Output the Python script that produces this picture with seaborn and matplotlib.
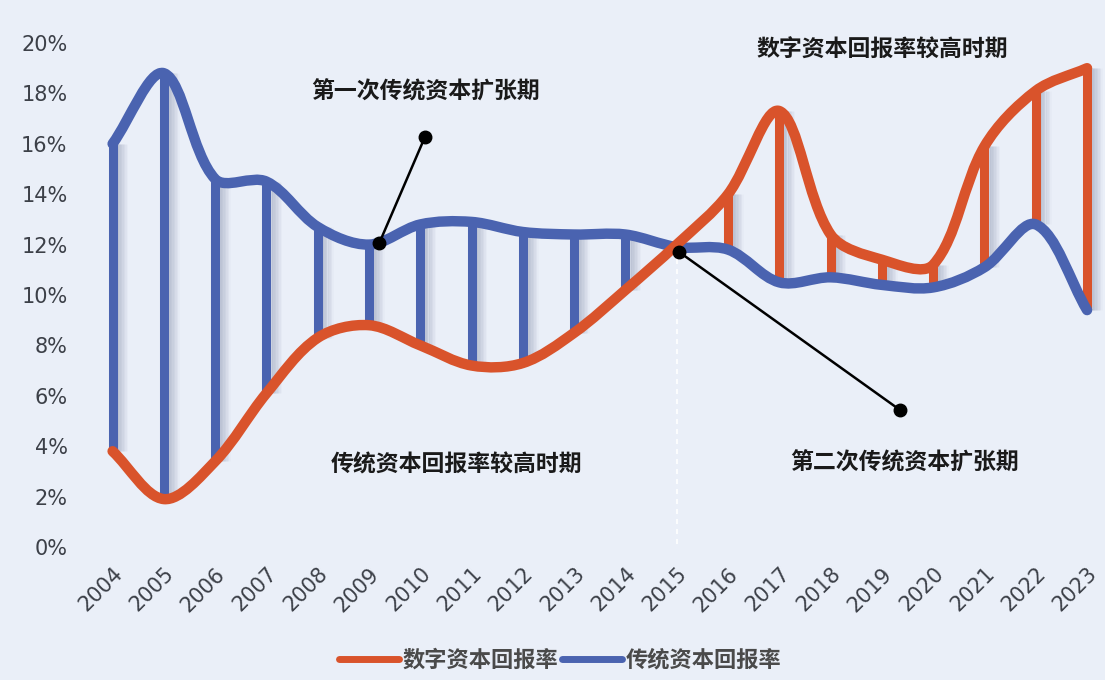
import numpy as np
import matplotlib
matplotlib.use("Agg")
import matplotlib.pyplot as plt
import seaborn as sns
from matplotlib.path import Path
from matplotlib.patches import PathPatch
from matplotlib.lines import Line2D

years = list(range(2004, 2024))
# 数字资本回报率 (%)
digital = [3.8, 1.9, 3.4, 6.1, 8.3, 8.8, 8.0, 7.2, 7.3, 8.5,
           10.2, 12.0, 14.0, 17.3, 12.4, 11.4, 11.2, 15.9, 18.1, 19.0]
# 传统资本回报率 (%)
traditional = [16.0, 18.8, 14.6, 14.5, 12.7, 12.0, 12.8, 12.9, 12.5, 12.4,
               12.4, 11.9, 11.8, 10.5, 10.7, 10.4, 10.3, 11.1, 12.8, 9.4]
y_ticks = list(range(0, 21, 2))

ORANGE = "#D9532B"
BLUE = "#4A63B0"
BG = "#EAEFF8"
TXT = "#3C4048"

sns.set_theme(style="white")
plt.rcParams["font.family"] = ["Noto Sans CJK SC", "DejaVu Sans"]


def smooth_path(xs, ys, aspect=2.03, t=1 / 3):
    # Excel-like smoothed line: cubic Bezier segments, tangents scaled by chord length
    pts = np.column_stack([xs, ys]).astype(float)
    n = len(pts)
    sc = pts * [aspect, 1]
    d = np.hypot(*np.diff(sc, axis=0).T)
    c_out, c_in = [], []
    for i in range(n):
        a = pts[max(i - 1, 0)]
        b = pts[min(i + 1, n - 1)]
        tan = b - a
        dp = d[i - 1] if i > 0 else 0.0
        dn = d[i] if i < n - 1 else 0.0
        tot = dp + dn
        c_out.append(pts[i] + tan * t * dn / tot)
        c_in.append(pts[i] - tan * t * dp / tot)
    verts = [pts[0]]
    codes = [Path.MOVETO]
    for i in range(n - 1):
        verts += [c_out[i], c_in[i + 1], pts[i + 1]]
        codes += [Path.CURVE4] * 3
    return Path(verts, codes)


fig = plt.figure(figsize=(11.05, 6.8), dpi=100, facecolor=BG)
ax = fig.add_axes([0.0787, 0.1956, 0.9213, 0.7412])
ax.set_facecolor(BG)

# vertical connectors between the two series
for x, d, t in zip(years, digital, traditional):
    if x == 2015:
        continue
    col = BLUE if t > d else ORANGE
    lo, hi = min(d, t), max(d, t)
    for k in range(1, 8):
        ax.vlines(x + 0.06 + 0.03 * k, lo, hi, color="#8A93AE",
                  lw=2.2, alpha=0.32 * (1 - k / 8), zorder=1)
    ax.vlines(x, lo, hi, color=col, lw=6.5, zorder=2)

ax.vlines(2015, 0.1, 11.6, color="white", lw=1.2, ls=(0, (3, 3)), zorder=1)

ax.add_patch(PathPatch(smooth_path(years, traditional), fill=False,
                       edgecolor=BLUE, lw=7.5, capstyle="round",
                       joinstyle="round", zorder=3))
ax.add_patch(PathPatch(smooth_path(years, digital), fill=False,
                       edgecolor=ORANGE, lw=7.5, capstyle="round",
                       joinstyle="round", zorder=4))

ax.set_xlim(2003.5, 2023.35)
ax.set_ylim(0, 20)
ax.set_yticks(y_ticks)
ax.set_yticklabels([f"{v}%" for v in y_ticks], fontsize=15, color=TXT,
                   family="DejaVu Sans")
ax.set_xticks(years)
ax.set_xticklabels([str(y) for y in years], rotation=45, ha="right",
                   rotation_mode="anchor", fontsize=15, color=TXT,
                   family="DejaVu Sans")
ax.tick_params(axis="x", pad=12, length=0)
ax.tick_params(axis="y", pad=14, length=0)
ax.grid(False)
sns.despine(ax=ax, left=True, bottom=True)

# annotations
txt = dict(fontsize=16.5, fontweight="bold", color="#1a1a1a", zorder=6)
ax.text(2010.1, 18.05, "第一次传统资本扩张期", ha="center", va="center", **txt)
ax.text(2010.7, 3.25, "传统资本回报率较高时期", ha="center", va="center", **txt)
ax.text(2019.0, 19.7, "数字资本回报率较高时期", ha="center", va="center", **txt)
ax.text(2019.45, 3.35, "第二次传统资本扩张期", ha="center", va="center", **txt)

ax.plot([2010.09, 2009.2], [16.27, 12.06], color="black", lw=1.8, zorder=6)
ax.plot([2010.09, 2009.2], [16.27, 12.06], "o", color="black", ms=9, zorder=6)
ax.plot([2015.05, 2019.35], [11.7, 5.44], color="black", lw=1.8, zorder=6)
ax.plot([2015.05, 2019.35], [11.7, 5.44], "o", color="black", ms=9, zorder=6)

handles = [Line2D([], [], color=ORANGE, lw=5), Line2D([], [], color=BLUE, lw=5)]
fig.legend(handles, ["数字资本回报率", "传统资本回报率"], loc="center",
           bbox_to_anchor=(0.507, 0.029), ncol=2, frameon=False,
           prop={"size": 16, "weight": "bold"}, labelcolor="#4a4a4a",
           handlelength=2.7, handletextpad=0.15, columnspacing=0.15)

fig.savefig("out.png", dpi=100, facecolor=BG)
